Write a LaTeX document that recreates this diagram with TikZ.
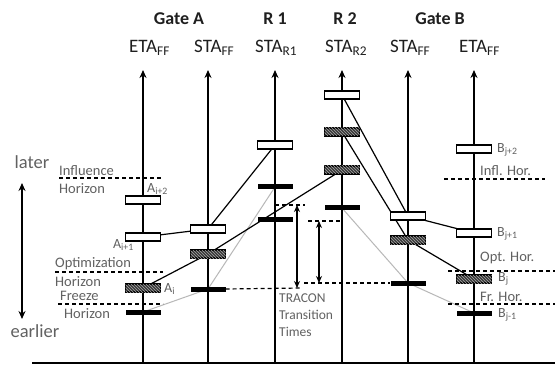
\documentclass[tikz,border=0pt]{standalone}
\usepackage{fontspec}
\setmainfont{Carlito}
\usetikzlibrary{arrows.meta,patterns,backgrounds}
\definecolor{lbl}{gray}{0.38}
\definecolor{ttl}{gray}{0.12}
\begin{document}
\begin{tikzpicture}[x=1pt,y=-1pt,
  axis/.style={line width=1.4pt,-{Stealth[length=8pt,width=7pt]}},
  obar/.style={draw,line width=1.2pt,fill=white,minimum width=35pt,minimum height=8pt,inner sep=0pt},
  hbar/.style={draw,line width=1.2pt,fill=black!78,minimum width=35pt,minimum height=8pt,inner sep=0pt,
    postaction={pattern=north west lines,pattern color=black!35}},
  bbar/.style={fill=black,minimum width=35pt,minimum height=5pt,inner sep=0pt},
  conn/.style={line width=1.2pt},
  gconn/.style={line width=1pt,black!28},
  dsh/.style={line width=1.2pt,dash pattern=on 4pt off 3pt},
  tarr/.style={line width=1.2pt,{Stealth[length=7pt,width=6pt]}-{Stealth[length=7pt,width=6pt]}},
  title/.style={font=\fontsize{18}{20}\selectfont\bfseries,text=ttl,inner sep=0pt},
  sub/.style={font=\fontsize{19}{21}\selectfont,text=ttl,inner sep=0pt,anchor=west},
  glab/.style={font=\fontsize{14.5}{16}\selectfont,text=lbl,inner sep=0pt,anchor=west},
  blab/.style={font=\fontsize{14}{16}\selectfont,text=lbl,inner sep=0pt,anchor=west},
  tlab/.style={font=\fontsize{13.5}{15}\selectfont,text=lbl,inner sep=0pt,anchor=west},
  side/.style={font=\fontsize{18.5}{20}\selectfont,text=lbl,inner sep=0pt}
]
\useasboundingbox (0,0) rectangle (558,369);

% axes
\coordinate (b1) at (143,363); \coordinate (t1) at (143,70);
\coordinate (b2) at (208,363); \coordinate (t2) at (208,70);
\coordinate (b3) at (275,363); \coordinate (t3) at (275,70);
\coordinate (b4) at (342,363); \coordinate (t4) at (342,70);
\coordinate (b5) at (408,363); \coordinate (t5) at (408,70);
\coordinate (b6) at (474,363); \coordinate (t6) at (474,70);
\coordinate (bl) at (32,363); \coordinate (br) at (555,363);
\draw[line width=1.4pt] (bl) -- (br);
\foreach \i in {1,...,6}{\draw[axis] (b\i) -- (t\i);}

% titles
\node[title] (gA) at (179,19) {Gate A};
\node[title] (R1) at (275,19) {R 1};
\node[title] (R2) at (345,19) {R 2};
\node[title] (gB) at (440,19) {Gate B};
\node[sub] (s1) at (129,48) {ETA\textsubscript{FF}};
\node[sub] (s2) at (194,48) {STA\textsubscript{FF}};
\node[sub] (s3) at (255,48) {STA\textsubscript{R1}};
\node[sub] (s4) at (325,48) {STA\textsubscript{R2}};
\node[sub] (s5) at (390,48) {STA\textsubscript{FF}};
\node[sub] (s6) at (459,48) {ETA\textsubscript{FF}};

% bars
\node[obar] (aIp2) at (143,200) {};
\node[obar] (aIp1) at (143,237) {};
\node[hbar] (aI)   at (143,288) {};
\node[bbar] (aIm1) at (143,312) {};
\node[obar] (sA1) at (208,229) {};
\node[hbar] (sA2) at (208,254) {};
\node[bbar] (sA3) at (208,289) {};
\node[obar] (r1a) at (275,145) {};
\node[bbar] (r1b) at (275,187) {};
\node[bbar] (r1c) at (275,220) {};
\node[obar] (r2a) at (342,95) {};
\node[hbar] (r2b) at (342,132) {};
\node[hbar] (r2c) at (342,170) {};
\node[bbar] (r2d) at (342,208) {};
\node[obar] (sB1) at (408,216) {};
\node[hbar] (sB2) at (408,240) {};
\node[bbar] (sB3) at (408,283) {};
\node[obar] (bJp2) at (474,149) {};
\node[obar] (bJp1) at (474,233) {};
\node[hbar] (bJ)   at (474,279) {};
\node[bbar] (bJm1) at (474,313) {};

% connectors behind the bars
\begin{scope}[on background layer]
\fill[white] (0,0) rectangle (558,369);
\draw[gconn] (aIm1.center) -- (sA3.center) -- (r1b.center);
\draw[gconn] (r2d.center) -- (sB3.center) -- (bJm1.center);
\draw[conn] (aIp1.center) -- (sA1.center) -- (r1a.center);
\draw[conn] (aI.center) -- (sA2.center) -- (r2c.center);
\draw[conn] (r2a.center) -- (sB1.center) -- (bJp1.center);
\draw[conn] (r2b.center) -- (sB2.center) -- (bJ.center);
\end{scope}

% horizons (Gate A)
\coordinate (iA1) at (59,178);  \coordinate (iA2) at (163,178);
\coordinate (oA1) at (55,272);  \coordinate (oA2) at (163,272);
\coordinate (fA1) at (58,304);  \coordinate (fA2) at (163,304);
\draw[dsh] (iA1) -- (iA2);
\draw[dsh] (oA1) -- (oA2);
\draw[dsh] (fA1) -- (fA2);
% horizons (Gate B)
\coordinate (iB1) at (444,179); \coordinate (iB2) at (545,179);
\coordinate (oB1) at (448,271); \coordinate (oB2) at (555,271);
\coordinate (fB1) at (448,304); \coordinate (fB2) at (555,304);
\draw[dsh] (iB1) -- (iB2);
\draw[dsh] (oB1) -- (oB2);
\draw[dsh] (fB1) -- (fB2);

% TRACON transition times
\coordinate (d1a) at (275,205); \coordinate (d1b) at (305,205);
\coordinate (d2a) at (308,221); \coordinate (d2b) at (342,221);
\coordinate (d3b) at (302,288);
\coordinate (d4a) at (304,283);
\coordinate (ar1t) at (297,205); \coordinate (ar1b) at (297,288);
\coordinate (ar2t) at (319,221); \coordinate (ar2b) at (319,283);
\draw[dsh] (d1a) -- (d1b);
\draw[dsh] (d2a) -- (d2b);
\draw[dsh] (sA3.east) -- (d3b);
\draw[dsh] (d4a) -- (sB3.west);
\draw[tarr] (ar1t) -- (ar1b);
\draw[tarr] (ar2t) -- (ar2b);
\node[tlab] (tr1) at (279,298) {TRACON};
\node[tlab] (tr2) at (279,315) {Transition};
\node[tlab] (tr3) at (279,332) {Times};

% Gate A labels
\node[glab] (lI)  at (59,171) {Influence};
\node[glab] (lIh) at (59,189) {Horizon};
\node[glab] (lO)  at (55,264) {Optimization};
\node[glab] (lOh) at (55,282) {Horizon};
\node[glab] (lF)  at (60,296) {Freeze};
\node[glab] (lFh) at (64,314) {Horizon};
\node[blab] (nAp2) at (147,189) {A\textsubscript{i+2}};
\node[blab,anchor=east] (nAp1) at (134,245) {A\textsubscript{i+1}};
\node[blab] (nA) at (164,289) {A\textsubscript{i}};

% Gate B labels
\node[blab] (nBp2) at (497,150) {B\textsubscript{j+2}};
\node[glab] (lIB) at (480,171) {Infl. Hor.};
\node[blab] (nBp1) at (497,234) {B\textsubscript{j+1}};
\node[glab] (lOB) at (480,258) {Opt. Hor.};
\node[blab] (nB) at (498,279) {B\textsubscript{j}};
\node[glab] (lFB) at (480,297) {Fr. Hor.};
\node[blab] (nBm1) at (498,315) {B\textsubscript{j-1}};

% time direction
\node[side] (later) at (32,162) {later};
\node[side] (earlier) at (35,331) {earlier};
\coordinate (lu) at (22,183);
\coordinate (ld) at (22,319);
\draw[line width=1.4pt,{Stealth[length=8pt,width=7pt]}-{Stealth[length=8pt,width=7pt]}] (lu) -- (ld);
\end{tikzpicture}
\end{document}
